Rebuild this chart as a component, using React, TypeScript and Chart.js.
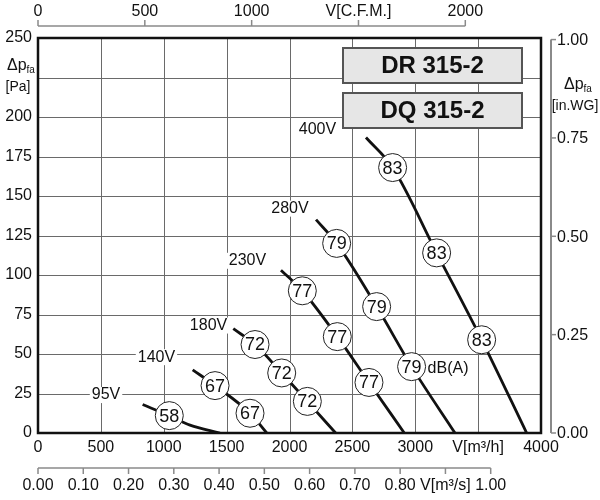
import { useEffect, useRef } from 'react';
import Chart from 'chart.js/auto';

const FONT = '"Liberation Sans", Arial, sans-serif';

// fan curves: airflow [m3/h] against static pressure [Pa]
const flow400 = [2608, 2820, 3170, 3528, 3886];
const pa400 = [187, 168, 114, 59, 0];
const flow280 = [2211, 2375, 2693, 2971, 3316];
const pa280 = [135, 120, 80, 42, 0];
const flow230 = [1932, 2102, 2380, 2632, 2913];
const pa230 = [103, 90, 61, 32, 0];
const flow180 = [1553, 1726, 1938, 2142, 2367];
const pa180 = [66, 56, 38, 20, 0];
const flow140 = [1230, 1408, 1686, 1819];
const pa140 = [40, 30, 12.5, 0];
const flow95 = [832, 1044, 1209, 1447];
const pa95 = [18, 11, 5, 0];

const voltages = ['400V', '280V', '230V', '180V', '140V', '95V'];
const voltFlow = [2222, 2004, 1666, 1356, 942, 541];
const voltPa = [192, 142, 109, 68, 48, 24];

// sound level marks dB(A)
const soundFlow = [2820, 3170, 3528, 2375, 2693, 2971, 2102, 2380, 2632, 1726, 1938, 2142, 1408, 1686, 1044];
const soundPa = [168, 114, 59, 120, 80, 42, 90, 61, 32, 56, 38, 20, 30, 12.5, 11];
const soundLevel = [83, 83, 83, 79, 79, 79, 77, 77, 77, 72, 72, 72, 67, 67, 58];

const flowTicks = [0, 500, 1000, 1500, 2000, 2500, 3000, 3500, 4000];
const flowLabels = ['0', '500', '1000', '1500', '2000', '2500', '3000', 'V[m³/h]', '4000'];
const paTicks = [0, 25, 50, 75, 100, 125, 150, 175, 200, 225, 250];
const paLabels = ['0', '25', '50', '75', '100', '125', '150', '175', '200', '', '250'];
const cfmTicks = [0, 500, 1000, 1500, 2000];
const cfmLabels = ['0', '500', '1000', 'V[C.F.M.]', '2000'];
const m3sTicks = [0, 0.1, 0.2, 0.3, 0.4, 0.5, 0.6, 0.7, 0.8, 0.9, 1.0];
const m3sLabels = ['0.00', '0.10', '0.20', '0.30', '0.40', '0.50', '0.60', '0.70', '0.80', 'V[m³/s]', '1.00'];
const inwgTicks = [0, 0.25, 0.5, 0.75, 1.0];
const inwgLabels = ['0.00', '0.25', '0.50', '0.75', '1.00'];
const models = ['DR 315-2', 'DQ 315-2'];

const M3H_PER_CFM = 1.699;
const M3H_PER_M3S = 3600;
const PA_PER_INWG = 249;

const toPoints = (xs: number[], ys: number[]) => xs.map((v, i) => ({ x: v, y: ys[i] }));

const curves = [
    toPoints(flow400, pa400),
    toPoints(flow280, pa280),
    toPoints(flow230, pa230),
    toPoints(flow180, pa180),
    toPoints(flow140, pa140),
    toPoints(flow95, pa95),
];

const deltaP = (ctx: CanvasRenderingContext2D, x: number, base: number) => {
    ctx.textAlign = 'left';
    ctx.textBaseline = 'alphabetic';
    ctx.font = `16px ${FONT}`;
    ctx.fillText('Δp', x, base);
    const w = ctx.measureText('Δp').width;
    ctx.font = `10px ${FONT}`;
    ctx.fillText('fa', x + w, base + 3);
};

const decor = {
    id: 'fanDecor',
    beforeDatasetsDraw(chart: any) {
        const { ctx, chartArea: a, scales: { x, y } } = chart;
        ctx.save();
        ctx.strokeStyle = '#6a6a6a';
        ctx.lineWidth = 1;
        flowTicks.slice(1, -1).forEach((v) => {
            const px = Math.round(x.getPixelForValue(v)) + 0.5;
            ctx.beginPath();
            ctx.moveTo(px, a.top);
            ctx.lineTo(px, a.bottom);
            ctx.stroke();
        });
        paTicks.slice(1, -1).forEach((v) => {
            const py = Math.round(y.getPixelForValue(v)) + 0.5;
            ctx.beginPath();
            ctx.moveTo(a.left, py);
            ctx.lineTo(a.right, py);
            ctx.stroke();
        });
        ctx.restore();
    },
    afterDatasetsDraw(chart: any) {
        const { ctx, chartArea: a, scales: { x, y } } = chart;
        ctx.save();

        // frame
        ctx.strokeStyle = '#111';
        ctx.lineWidth = 2.5;
        ctx.strokeRect(a.left, a.top, a.right - a.left, a.bottom - a.top);

        ctx.fillStyle = '#111';
        ctx.font = `16px ${FONT}`;

        // main x labels
        ctx.textAlign = 'center';
        ctx.textBaseline = 'middle';
        flowTicks.forEach((v, i) => ctx.fillText(flowLabels[i], x.getPixelForValue(v), a.bottom + 15));

        // main y labels
        ctx.textAlign = 'right';
        paTicks.forEach((v, i) => ctx.fillText(paLabels[i], a.left - 6, y.getPixelForValue(v)));

        deltaP(ctx, 7, 70);
        ctx.font = `14px ${FONT}`;
        ctx.textAlign = 'center';
        ctx.textBaseline = 'middle';
        ctx.fillText('[Pa]', 18, 87);

        // secondary axes
        ctx.strokeStyle = '#8a8a8a';
        ctx.lineWidth = 1.5;
        ctx.font = `16px ${FONT}`;

        // top CFM axis
        const topY = 26;
        const cfmEnd = x.getPixelForValue(cfmTicks[cfmTicks.length - 1] * M3H_PER_CFM);
        ctx.beginPath();
        ctx.moveTo(a.left, topY);
        ctx.lineTo(cfmEnd, topY);
        ctx.stroke();
        cfmTicks.forEach((v, i) => {
            const px = x.getPixelForValue(v * M3H_PER_CFM);
            ctx.beginPath();
            ctx.moveTo(px, topY);
            ctx.lineTo(px, topY - 6);
            ctx.stroke();
            ctx.fillText(cfmLabels[i], px, 12);
        });

        // bottom m3/s axis
        const botY = 468;
        const m3sEnd = x.getPixelForValue(m3sTicks[m3sTicks.length - 1] * M3H_PER_M3S);
        ctx.beginPath();
        ctx.moveTo(a.left, botY);
        ctx.lineTo(m3sEnd, botY);
        ctx.stroke();
        m3sTicks.forEach((v, i) => {
            const px = x.getPixelForValue(v * M3H_PER_M3S);
            ctx.beginPath();
            ctx.moveTo(px, botY);
            ctx.lineTo(px, botY + 6);
            ctx.stroke();
            ctx.fillText(m3sLabels[i], px, 486);
        });

        // right in.WG axis
        const rightX = 551;
        ctx.lineWidth = 2;
        const wgTop = y.getPixelForValue(inwgTicks[inwgTicks.length - 1] * PA_PER_INWG);
        ctx.beginPath();
        ctx.moveTo(rightX, y.getPixelForValue(0));
        ctx.lineTo(rightX, wgTop);
        ctx.stroke();
        ctx.lineWidth = 1.5;
        ctx.textAlign = 'left';
        inwgTicks.forEach((v, i) => {
            const py = y.getPixelForValue(v * PA_PER_INWG);
            ctx.beginPath();
            ctx.moveTo(rightX, py);
            ctx.lineTo(rightX + 5, py);
            ctx.stroke();
            ctx.fillText(inwgLabels[i], rightX + 6, py + 1);
        });
        deltaP(ctx, 564, 89);
        ctx.font = `14px ${FONT}`;
        ctx.textAlign = 'center';
        ctx.textBaseline = 'middle';
        ctx.fillText('[in.WG]', 575, 106);

        // voltage labels
        ctx.font = `16px ${FONT}`;
        voltages.forEach((t, i) => {
            const px = x.getPixelForValue(voltFlow[i]);
            const py = y.getPixelForValue(voltPa[i]);
            const w = ctx.measureText(t).width;
            ctx.fillStyle = '#fff';
            ctx.fillRect(px - w / 2 - 2, py - 8, w + 4, 16);
            ctx.fillStyle = '#111';
            ctx.fillText(t, px, py);
        });

        // sound level numbers
        const meta = chart.getDatasetMeta(0);
        ctx.font = `18px ${FONT}`;
        meta.data.forEach((pt: any, i: number) => {
            ctx.fillText(String(soundLevel[i]), pt.x, pt.y + 1);
        });
        const last = meta.data[5];
        ctx.font = `16px ${FONT}`;
        ctx.textAlign = 'left';
        ctx.fillText('dB(A)', last.x + 16, last.y + 2);

        // model boxes
        const bx = a.right - 198;
        const bw = 179;
        const bh = 35;
        models.forEach((m, i) => {
            const by = a.top + 10 + i * 45;
            ctx.fillStyle = '#e6e6e6';
            ctx.fillRect(bx, by, bw, bh);
            ctx.strokeStyle = '#555';
            ctx.lineWidth = 2;
            ctx.strokeRect(bx, by, bw, bh);
            ctx.fillStyle = '#111';
            ctx.font = `bold 24px ${FONT}`;
            ctx.textAlign = 'center';
            ctx.fillText(m, bx + bw / 2, by + bh / 2 + 1);
        });

        ctx.restore();
    },
};

const FanChart = () => {
    const chartRef = useRef<HTMLCanvasElement | null>(null);
    const chartInstance = useRef<Chart | null>(null);

    useEffect(() => {
        if (chartRef.current) {
            if (chartInstance.current) {
                chartInstance.current.destroy();
            }

            chartInstance.current = new Chart(chartRef.current, {
                type: 'scatter',
                data: {
                    datasets: [
                        {
                            data: toPoints(soundFlow, soundPa),
                            pointRadius: 14,
                            pointBackgroundColor: '#fff',
                            pointBorderColor: '#222',
                            pointBorderWidth: 1,
                            showLine: false,
                            order: 0,
                        },
                        ...curves.map((pts) => ({
                            data: pts,
                            showLine: true,
                            borderColor: '#111',
                            borderWidth: 2.8,
                            pointRadius: 0,
                            cubicInterpolationMode: 'monotone' as const,
                            order: 1,
                        })),
                    ],
                },
                options: {
                    responsive: false,
                    animation: false,
                    layout: {
                        padding: { left: 38, top: 38, right: 59, bottom: 67 },
                    },
                    scales: {
                        x: { type: 'linear', min: 0, max: 4000, display: false },
                        y: { type: 'linear', min: 0, max: 250, display: false },
                    },
                    plugins: {
                        legend: { display: false },
                        tooltip: { enabled: false },
                    },
                },
                plugins: [decor],
            });
        }

        return () => {
            if (chartInstance.current) {
                chartInstance.current.destroy();
                chartInstance.current = null;
            }
        };
    }, []);

    return (
        <div style={{ position: 'absolute', left: 0, top: 0, width: 600, height: 500, background: '#fff' }}>
            <canvas ref={chartRef} width={600} height={500}></canvas>
        </div>
    );
};

export default function App() {
    return <FanChart />;
}
